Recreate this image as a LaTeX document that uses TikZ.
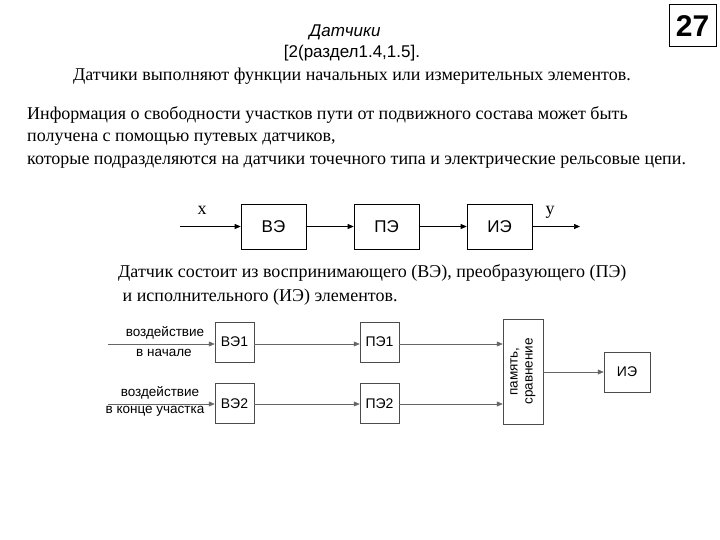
\documentclass[tikz,border=0pt]{standalone}
\usepackage{fontspec}
\setmainfont{Liberation Serif}
\newfontfamily\arial{Liberation Sans}
\usetikzlibrary{arrows.meta}
\begin{document}
\begin{tikzpicture}[x=1pt,y=-1pt,
  blk/.style={draw,line width=0.6pt,minimum width=65pt,minimum height=45pt,font=\arial\fontsize{17}{17}\selectfont,inner sep=0pt},
  sblk/.style={draw=black!70,line width=0.5pt,minimum width=39pt,minimum height=40pt,font=\arial\fontsize{14}{14}\selectfont,inner sep=0pt},
  arr/.style={-{Triangle[length=6pt,width=5pt]},line width=0.6pt},
  sarr/.style={-{Triangle[length=6pt,width=5pt]},draw=black!60,line width=0.5pt},
  lbl/.style={font=\arial\fontsize{13.5}{15}\selectfont,inner sep=0pt}]
\useasboundingbox[fill=white] (0,0) rectangle (720,540);
\node[font=\arial\itshape\fontsize{17}{17}\selectfont] (t1) at (345,32) {Датчики};
\node[font=\arial\fontsize{17}{17}\selectfont] (t2) at (352,53) {[2(раздел1.4,1.5].};
\node[font=\fontsize{18}{18}\selectfont] (t3) at (352,76) {Датчики выполняют функции начальных или измерительных элементов.};
\node[draw,line width=1pt,minimum width=47pt,minimum height=42pt,inner sep=0pt,font=\arial\bfseries\fontsize{30}{30}\selectfont] (n27) at (692.5,26) {27};
\node[anchor=north west,align=left,font=\fontsize{18}{22.5}\selectfont,inner sep=0pt] (p) at (27,106)
 {Информация о свободности участков пути от подвижного состава может быть\\получена с помощью путевых датчиков,\\которые подразделяются на датчики точечного типа и электрические рельсовые цепи.};
\node[blk] (ve) at (273.5,226.5) {ВЭ};
\node[blk] (pe) at (386.5,226.5) {ПЭ};
\node[blk] (ie) at (499.5,226.5) {ИЭ};
\coordinate (xin) at (180,226.5);
\coordinate (yout) at (580,226.5);
\draw[arr] (xin) -- (ve);
\draw[arr] (ve) -- (pe);
\draw[arr] (pe) -- (ie);
\draw[arr] (ie) -- (yout);
\node[font=\fontsize{18}{18}\selectfont] (lx) at (202,210) {x};
\node[font=\fontsize{18}{18}\selectfont] (ly) at (550,212) {y};
\node[anchor=north west,align=left,font=\fontsize{18}{24}\selectfont,inner sep=0pt] (d) at (118,264)
 {Датчик состоит из воспринимающего (ВЭ), преобразующего (ПЭ)\\\ и исполнительного (ИЭ) элементов.};
\node[sblk] (ve1) at (234.5,342) {ВЭ1};
\node[sblk] (pe1) at (379.5,342) {ПЭ1};
\node[sblk] (ve2) at (234.5,403.5) {ВЭ2};
\node[sblk] (pe2) at (379.5,403.5) {ПЭ2};
\node[sblk,minimum height=105pt,minimum width=40pt] (mem) at (523,371.5) {};
\node[lbl,rotate=90,align=center] at (mem.center) {память,\\сравнение};
\node[sblk,minimum width=46pt] (ie1) at (627,372) {ИЭ};
\coordinate (in1) at (108,344);
\coordinate (in2) at (108,404);
\draw[sarr] (in1) -- (in1-|ve1.west);
\draw[sarr] (in2) -- (in2-|ve2.west);
\draw[sarr] (ve1.east|-in1) -- (pe1.west|-in1);
\draw[sarr] (pe1.east|-in1) -- (mem.west|-in1);
\draw[sarr] (ve2.east|-in2) -- (pe2.west|-in2);
\draw[sarr] (pe2.east|-in2) -- (mem.west|-in2);
\draw[sarr] (mem.east|-ie1) -- (ie1.west);
\node[lbl] (a1) at (165,333) {воздействие};
\node[lbl] (a2) at (164,353) {в начале};
\node[lbl] (b1) at (160,393) {воздействие};
\node[lbl] (b2) at (155,411) {в конце участка};
\end{tikzpicture}
\end{document}
